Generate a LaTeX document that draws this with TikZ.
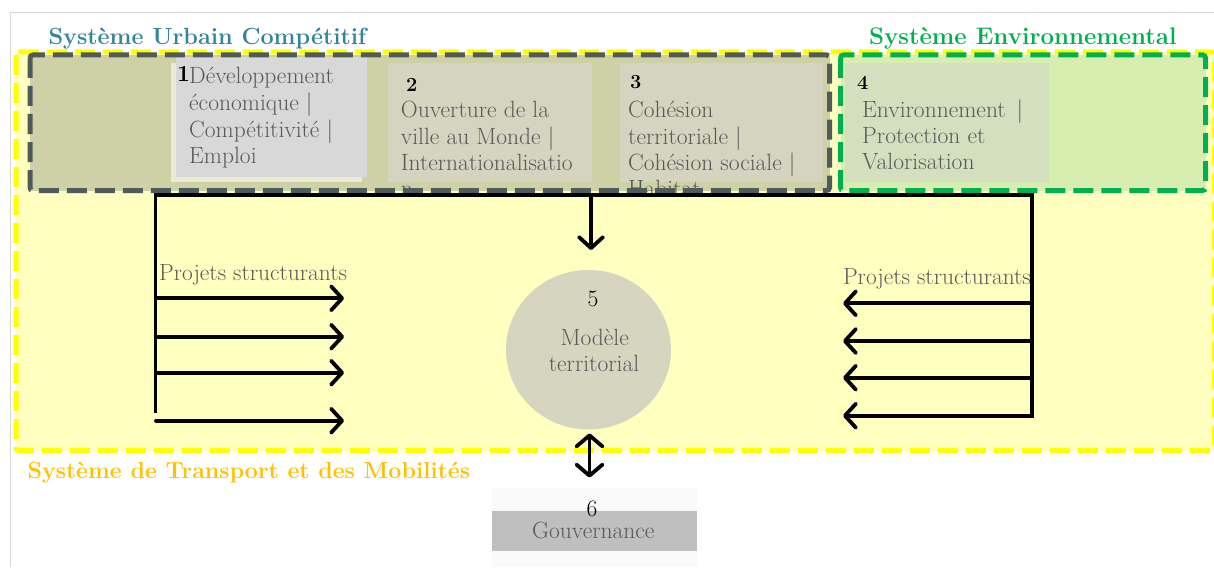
\documentclass[tikz,border=0pt]{standalone}
\usetikzlibrary{arrows.meta,shapes.geometric}
\definecolor{framegray}{RGB}{217,217,217}
\definecolor{yfill}{RGB}{255,255,192}
\definecolor{ystroke}{RGB}{255,255,0}
\definecolor{ufill}{RGB}{206,208,166}
\definecolor{ustroke}{RGB}{79,90,91}
\definecolor{efill}{RGB}{216,238,176}
\definecolor{estroke}{RGB}{0,176,80}
\definecolor{bonefill}{RGB}{216,216,216}
\definecolor{boneback}{RGB}{234,234,214}
\definecolor{btwofill}{RGB}{212,212,192}
\definecolor{bfourfill}{RGB}{212,223,192}
\definecolor{cfill}{RGB}{214,214,192}
\definecolor{txt}{RGB}{89,89,89}
\definecolor{tealc}{RGB}{49,132,155}
\definecolor{tgreen}{RGB}{0,176,80}
\definecolor{torange}{RGB}{255,192,0}
\definecolor{govfill}{RGB}{191,191,191}
\definecolor{govback}{RGB}{250,250,250}
\begin{document}
\begin{tikzpicture}[x=1pt,y=-1pt,
  body/.style={font=\fontsize{23.5}{26}\selectfont, text=txt, inner sep=0pt, anchor=base west},
  num/.style={font=\bfseries\fontsize{20}{24}\selectfont, inner sep=0pt, anchor=base west},
  ctext/.style={font=\fontsize{23.5}{26}\selectfont, inner sep=0pt, anchor=base},
  title/.style={font=\bfseries\fontsize{23.4}{26}\selectfont, inner sep=0pt, anchor=base west},
  sysbox/.style={line width=5pt, dash pattern=on 20pt off 8pt, rounded corners=3pt},
  wire/.style={line width=3.8pt, line cap=round},
  arr/.style={wire, -{Straight Barb[length=11pt,width=24pt,round]}},
  darr/.style={wire, {Straight Barb[length=11pt,width=26pt,round]}-{Straight Barb[length=11pt,width=26pt,round]}},
]
\useasboundingbox (0,0) rectangle (1214,567);
% outer frame
\draw[framegray, line width=1.5pt] (10.5,567) -- (10.5,12.5) -- (1214,12.5);

% system fills
\fill[yfill] (16,52) rectangle (1214,450.5);
\fill[ufill] (30,55) rectangle (829.5,190.5);
\fill[efill] (840.5,55) rectangle (1205.5,190.5);

% theme boxes
\fill[boneback] (171,63) rectangle (362,182);
\fill[bonefill] (176,57) rectangle (367,177);
\fill[btwofill] (388,63) rectangle (592,182);
\fill[btwofill] (620,63) rectangle (823,182);
\fill[bfourfill] (845,63) rectangle (1049,182);

% box 1
\node[num, font=\bfseries\fontsize{23}{26}\selectfont] (n1) at (177,82) {1};
\node[body] (t1a) at (189,84) {Développement};
\node[body] (t1b) at (189,110.5) {économique |};
\node[body] (t1c) at (189,137) {Compétitivité |};
\node[body] (t1d) at (189,163) {Emploi};
% box 2
\node[num] (n2) at (406,92) {2};
\node[body] (t2a) at (400.7,117.7) {Ouverture de la};
\node[body] (t2b) at (400.7,144) {ville au Monde |};
\node[body] (t2c) at (400.7,170.3) {Internationalisatio};
\node[body] (t2d) at (400.7,196.6) {n};
% box 3
\node[num] (n3) at (630,89) {3};
\node[body] (t3a) at (628,117.7) {Cohésion};
\node[body] (t3b) at (628,144) {territoriale |};
\node[body] (t3c) at (628,170.3) {Cohésion sociale |};
\node[body] (t3d) at (628,196.6) {Habitat};
% box 4
\node[num] (n4) at (857,90) {4};
\node[body] (t4a) at (862,117.3) {Environnement \,|};
\node[body] (t4b) at (862,143.3) {Protection et};
\node[body] (t4c) at (862,169.3) {Valorisation};

% system strokes
\draw[sysbox, ystroke] (16,52) rectangle (1214.5,450.5);
\draw[sysbox, ustroke] (30,55) rectangle (829.5,190.5);
\draw[sysbox, estroke] (840.5,55) rectangle (1205.5,190.5);

% central model
\node[ellipse, fill=cfill, minimum width=165pt, minimum height=159.5pt, inner sep=0pt] (model) at (588.5,349.7) {};
\node[ctext] (n5) at (593,306) {5};
\node[ctext, text=txt] (m1) at (594.7,345) {Modèle};
\node[ctext, text=txt] (m2) at (594,371.7) {territorial};

% bus lines
\coordinate (busL) at (155.5,195);
\coordinate (busR) at (1032,195);
\coordinate (busLend) at (155.5,413);
\coordinate (busRend) at (1032,418);
\draw[wire, line cap=butt] (busLend) -- (busL) -- (busR) -- (busRend);
\coordinate (busC) at (591,195);
\coordinate (downtip) at (591,250);
\draw[arr] (busC) -- (downtip);

\node[body, font=\fontsize{23.4}{26}\selectfont] (psL) at (159,280.7) {Projets structurants};
\node[body, font=\fontsize{23.4}{26}\selectfont, anchor=base east] (psR) at (1031,284) {Projets structurants};

\foreach \y [count=\i] in {298.3,336.7,372.7,420.7} {
  \coordinate (ls\i) at (156,\y);
  \coordinate (le\i) at (344,\y);
  \draw[arr] (ls\i) -- (le\i);
}
\foreach \y [count=\i] in {303.3,341,377.7,415.7} {
  \coordinate (rs\i) at (1032,\y);
  \coordinate (re\i) at (843,\y);
  \draw[arr] (rs\i) -- (re\i);
}

% governance
\fill[govback] (491.7,488) rectangle (696.7,567);
\node[fill=govfill, minimum width=205pt, minimum height=40pt, inner sep=0pt, anchor=north west] (gov) at (491.7,510.7) {};
\node[ctext] (n6) at (592,516.7) {6};
\node[ctext, text=txt] (govt) at (593.3,538.3) {Gouvernance};
\coordinate (dtop) at (589.5,433.5);
\coordinate (dbot) at (589.5,477.5);
\draw[darr] (dtop) -- (dbot);

% titles
\node[title, text=tealc] (tu) at (48.3,45) {Système Urbain Compétitif};
\node[title, text=tgreen, font=\bfseries\fontsize{24}{26}\selectfont] (te) at (869,45) {Système Environnemental};
\node[title, text=torange, font=\bfseries\fontsize{23.2}{26}\selectfont] (tt) at (27.3,478.3) {Système de Transport et des Mobilités};
\end{tikzpicture}
\end{document}
